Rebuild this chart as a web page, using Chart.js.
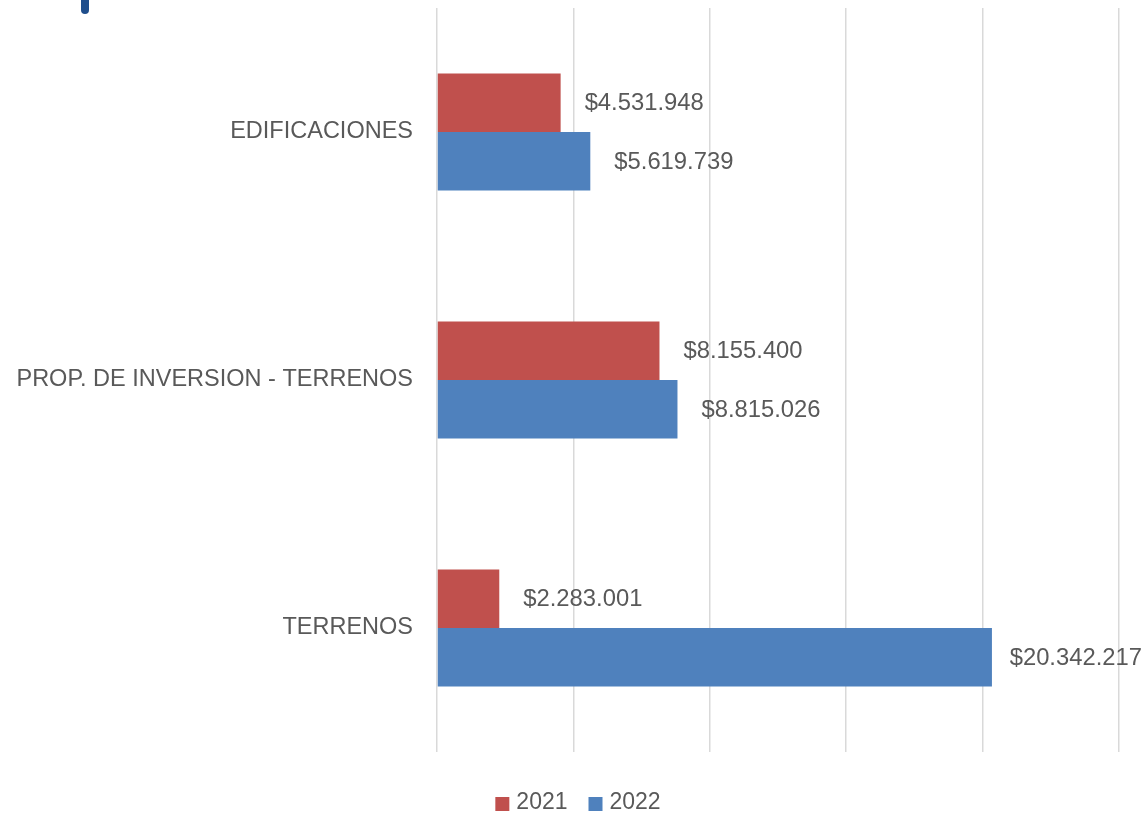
<!DOCTYPE html>
<html>
<head>
<meta charset="utf-8">
<script src="https://cdn.jsdelivr.net/npm/chart.js@4"></script>
<style>
  html, body { margin: 0; padding: 0; background: #fff; }
  #wrap { position: relative; width: 1144px; height: 815px; }
  #mark { position: absolute; left: 81px; top: -6px; width: 8px; height: 20px; background: #1f4e8c; border-radius: 4px; }
</style>
</head>
<body>
<div id="wrap">
  <canvas id="chart" width="1144" height="815"></canvas>
  <div id="mark"></div>
</div>
<script>
// --- DATA ---
const categories = ['EDIFICACIONES', 'PROP. DE INVERSION - TERRENOS', 'TERRENOS'];
const seriesNames = ['2021', '2022'];
const values2021 = [4531948, 8155400, 2283001];
const values2022 = [5619739, 8815026, 20342217];
const axisMax = 25000000;
const axisStep = 5000000;

const textColor = '#595959';
const fontFamily = '"Liberation Sans", Arial, sans-serif';

function money(v) {
    return '$' + v.toString().replace(/\B(?=(\d{3})+(?!\d))/g, '.');
}

// draws the value next to the end of each bar
const valueLabels = {
    id: 'valueLabels',
    afterDatasetsDraw(chart) {
        const ctx = chart.ctx;
        ctx.save();
        ctx.font = '23.8px ' + fontFamily;
        ctx.fillStyle = textColor;
        ctx.textBaseline = 'middle';
        chart.data.datasets.forEach((ds, i) => {
            chart.getDatasetMeta(i).data.forEach((bar, j) => {
                const txt = money(ds.data[j]);
                const w = ctx.measureText(txt).width;
                let x = bar.x + 24;
                if (x + w > chart.width - 2) x = chart.width - 2 - w;
                ctx.fillText(txt, x, bar.y + 1);
            });
        });
        ctx.restore();
    }
};

// simple legend under the plot (square + year)
const bottomLegend = {
    id: 'bottomLegend',
    afterDraw(chart) {
        const ctx = chart.ctx;
        ctx.save();
        ctx.font = '23px ' + fontFamily;
        ctx.textBaseline = 'middle';
        const box = 14, gap = 7, itemGap = 21;
        const items = chart.data.datasets.map(ds => ({ text: ds.label, color: ds.backgroundColor, w: ctx.measureText(ds.label).width }));
        const total = items.reduce((s, it) => s + box + gap + it.w, 0) + itemGap * (items.length - 1);
        let x = chart.width / 2 + 6 - total / 2;
        const y = 803;
        items.forEach(it => {
            ctx.fillStyle = it.color;
            ctx.fillRect(x, y - box / 2 + 1, box, box);
            x += box + gap;
            ctx.fillStyle = textColor;
            ctx.fillText(it.text, x, y);
            x += it.w + itemGap;
        });
        ctx.restore();
    }
};

new Chart(document.getElementById('chart'), {
    type: 'bar',
    data: {
        labels: categories,
        datasets: [
            { label: seriesNames[0], data: values2021, backgroundColor: '#c0504d' },
            { label: seriesNames[1], data: values2022, backgroundColor: '#4f81bd' }
        ]
    },
    options: {
        indexAxis: 'y',
        responsive: false,
        animation: false,
        datasets: { bar: { categoryPercentage: 0.472, barPercentage: 1 } },
        layout: { padding: { top: 8, right: 25, left: 0, bottom: 0 } },
        plugins: {
            legend: { display: false },
            tooltip: { enabled: false }
        },
        scales: {
            x: {
                min: 0, max: axisMax,
                ticks: { display: false, stepSize: axisStep },
                grid: { color: '#d9d9d9', lineWidth: 1.5, drawTicks: false },
                border: { display: false },
                afterFit(scale) { scale.height = 63; }
            },
            y: {
                grid: { display: false, drawTicks: false },
                border: { display: false },
                ticks: { color: textColor, padding: 24, font: { family: fontFamily, size: 23.5 } },
                afterFit(scale) {
                    scale.width = 437;
                    scale.paddingTop = 0;
                    scale.paddingBottom = 0;
                }
            }
        }
    },
    plugins: [valueLabels, bottomLegend]
});
</script>
</body>
</html>
